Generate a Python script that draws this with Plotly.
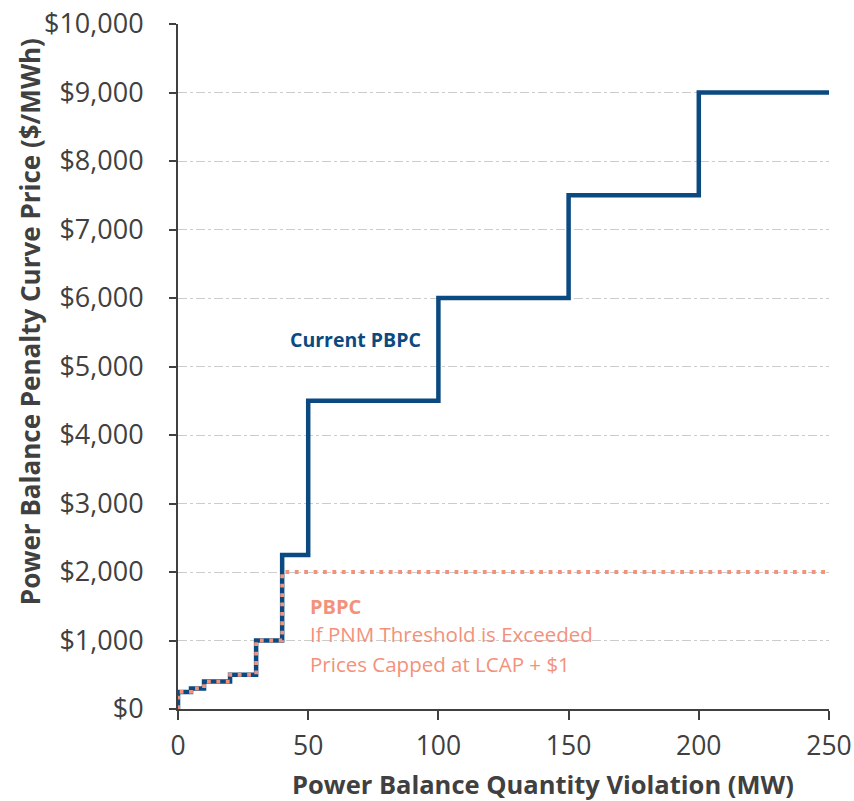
import plotly.graph_objects as go

# Penalty curve breakpoints (MW violation -> $/MWh), drawn as step functions
current_mw = [0, 0, 5, 10, 20, 30, 40, 50, 100, 150, 200, 250]
current_price = [0, 250, 300, 400, 500, 1000, 2250, 4500, 6000, 7500, 9000, 9000]

capped_mw = [0, 0, 5, 10, 20, 30, 40, 250]
capped_price = [0, 250, 300, 400, 500, 1000, 2000, 2000]

x_ticks = [0, 50, 100, 150, 200, 250]
y_ticks = list(range(0, 10001, 1000))

NAVY = "#0b4a80"
SALMON = "#f4917b"
AXIS = "#404040"
FONT = "Open Sans"

fig = go.Figure()
fig.add_trace(go.Scatter(
    x=current_mw, y=current_price, mode="lines", line_shape="hv",
    line=dict(color=NAVY, width=4.5), name="Current PBPC", hoverinfo="x+y",
))
fig.add_trace(go.Scatter(
    x=capped_mw, y=capped_price, mode="lines", line_shape="hv",
    line=dict(color=SALMON, width=3.8, dash="3.8px,5.6px"), name="PBPC", hoverinfo="x+y",
))

# Curve labels
fig.add_annotation(x=42.2, y=5390, xanchor="left", yanchor="middle",
                   text="<b>Current PBPC</b>", showarrow=False,
                   font=dict(family=FONT, size=19.5, color=NAVY))
fig.add_annotation(x=49.9, y=1500, xanchor="left", yanchor="middle",
                   text="<b>PBPC</b>", showarrow=False,
                   font=dict(family=FONT, size=20, color=SALMON))
fig.add_annotation(x=49.9, y=1090, xanchor="left", yanchor="middle",
                   text="If PNM Threshold is Exceeded", showarrow=False,
                   font=dict(family=FONT, size=20.5, color=SALMON))
fig.add_annotation(x=49.9, y=655, xanchor="left", yanchor="middle",
                   text="Prices Capped at LCAP + $1", showarrow=False,
                   font=dict(family=FONT, size=20.5, color=SALMON))

# Axis titles
fig.add_annotation(x=0.5607, y=-0.1095, xref="paper", yref="paper",
                   xanchor="center", yanchor="middle", showarrow=False,
                   text="<b>Power Balance Quantity Violation (MW)</b>",
                   font=dict(family=FONT, size=25.5, color=AXIS))
fig.add_annotation(x=-0.227, y=0.565, xref="paper", yref="paper",
                   xanchor="center", yanchor="middle", showarrow=False, textangle=-90,
                   text="<b>Power Balance Penalty Curve Price ($/MWh)</b>",
                   font=dict(family=FONT, size=26, color=AXIS))

fig.update_layout(
    width=854, height=801,
    margin=dict(l=178, r=25, t=24, b=92),
    paper_bgcolor="white", plot_bgcolor="white",
    showlegend=False,
    font=dict(family=FONT, color=AXIS),
)
fig.update_xaxes(
    range=[0, 250], tickvals=x_ticks, ticktext=[str(v) for v in x_ticks],
    automargin=False,
    showline=True, linecolor=AXIS, linewidth=2,
    ticks="outside", ticklen=9, tickwidth=2, tickcolor=AXIS,
    ticklabelstandoff=3,
    showgrid=False, zeroline=False,
    tickfont=dict(family=FONT, size=26.5, color=AXIS),
)
fig.update_yaxes(
    range=[0, 10000], tickvals=y_ticks, ticktext=[f"${v:,}" for v in y_ticks],
    automargin=False,
    showline=True, linecolor=AXIS, linewidth=2,
    ticks="outside", ticklen=7, tickwidth=2, tickcolor=AXIS,
    ticklabelstandoff=20,
    showgrid=True, gridcolor="#cccccc", gridwidth=1, griddash="dashdot",
    zeroline=False,
    tickfont=dict(family=FONT, size=27, color=AXIS),
)

fig.write_html("out.html")
